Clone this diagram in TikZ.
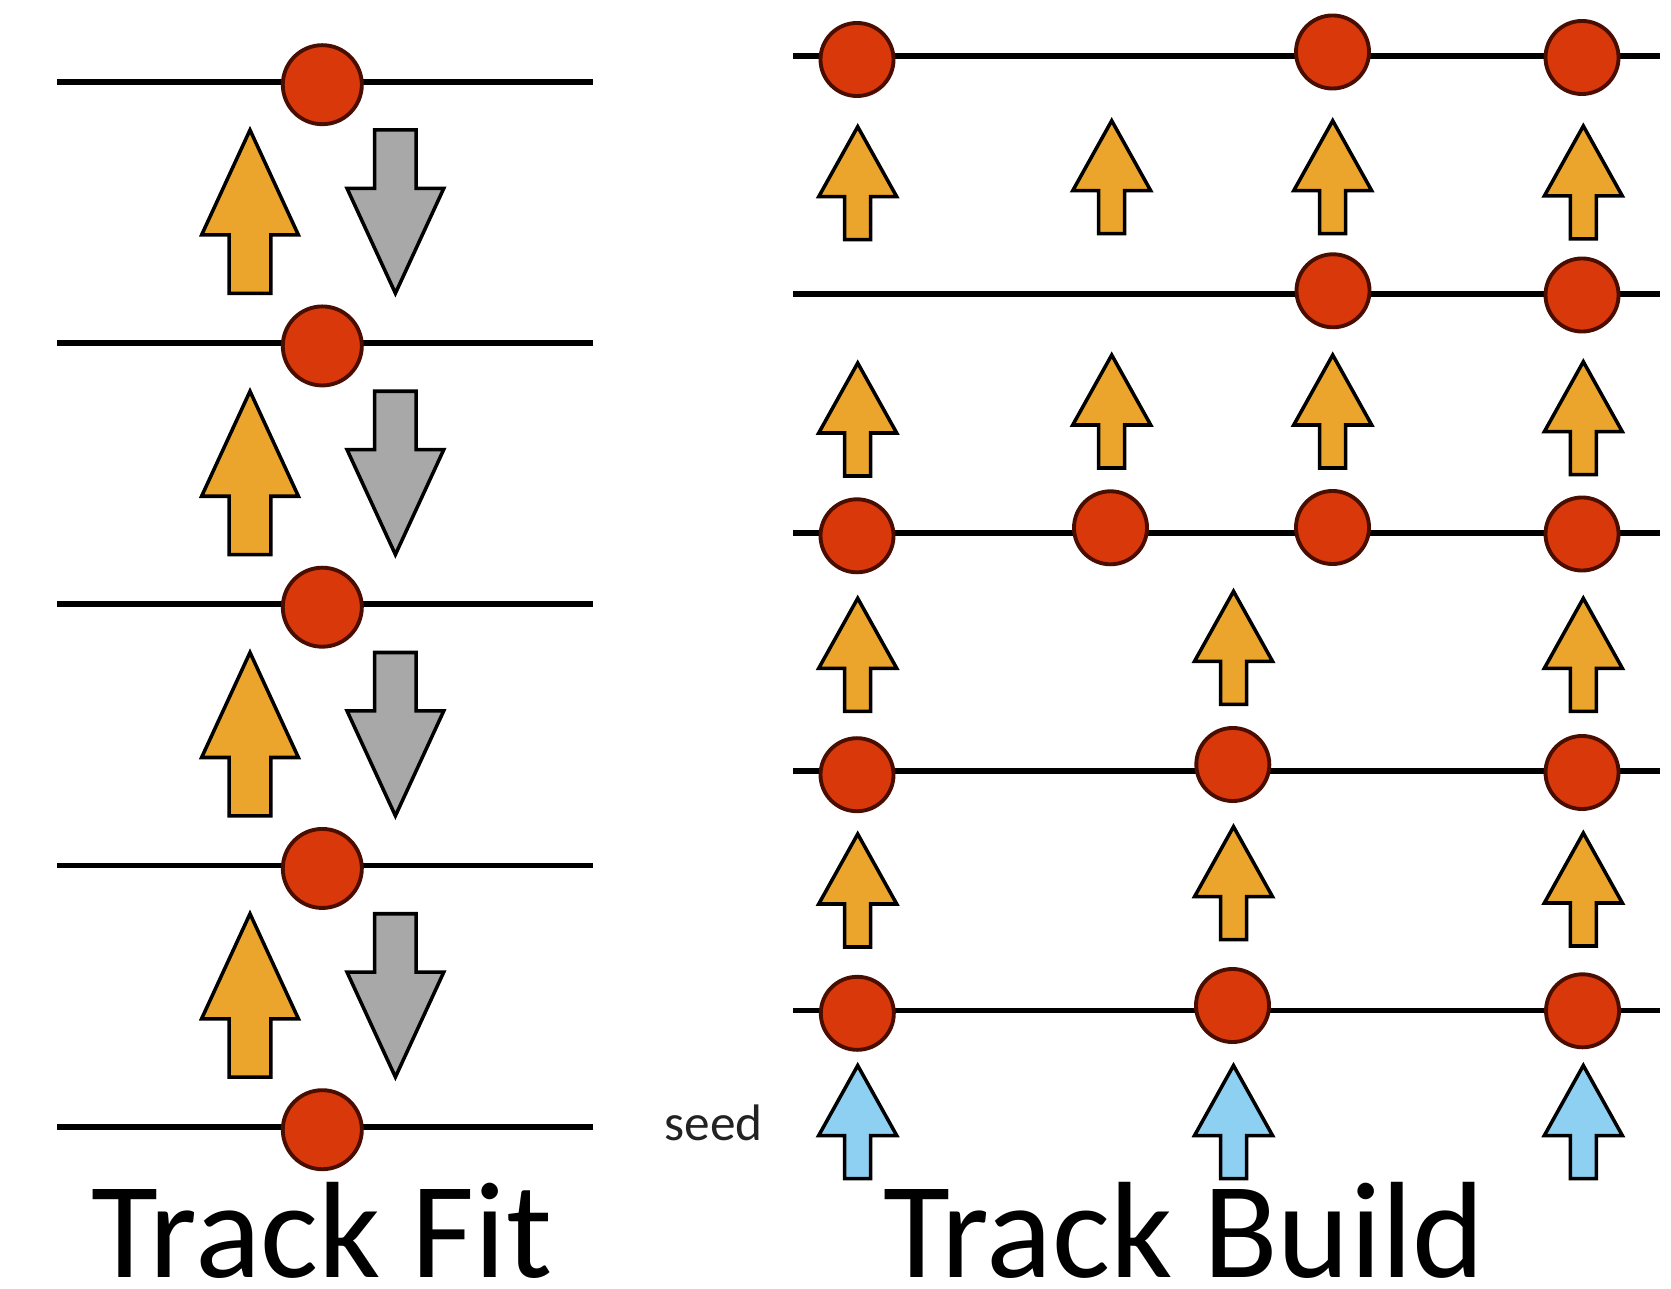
\documentclass[tikz,border=0pt]{standalone}
\usepackage{fontspec}
\setmainfont{Carlito}
\definecolor{hitred}{HTML}{D8380A}
\definecolor{hitedge}{HTML}{4A0E00}
\definecolor{fwdorange}{HTML}{EBA52C}
\definecolor{bwdgrey}{HTML}{A8A8A8}
\definecolor{seedblue}{HTML}{8ED0F2}
\definecolor{seedtext}{HTML}{222222}
\begin{document}
\begin{tikzpicture}[x=0.01cm,y=-0.01cm,
  track/.style={line width=1.6pt, black},
  hit/.style={circle, draw=hitedge, fill=hitred, line width=1.1pt, inner sep=0pt},
  bighit/.style={hit, minimum size=0.79cm},
  smallhit/.style={hit, minimum size=0.73cm},
  blockarrow/.style={draw=black, line width=1pt, line join=miter},
  fwd/.style={blockarrow, fill=fwdorange},
  bwd/.style={blockarrow, fill=bwdgrey},
  seedarrow/.style={blockarrow, fill=seedblue},
  bigblk/.pic={\path[pic actions] (0,0) -- (48.4,105) -- (20.8,105) -- (20.8,163.3)
      -- (-20.8,163.3) -- (-20.8,105) -- (-48.4,105) -- cycle;},
  smallblk/.pic={\path[pic actions] (0,0) -- (39,70) -- (13,70) -- (13,113)
      -- (-13,113) -- (-13,70) -- (-39,70) -- cycle;},
  title/.style={anchor=base, inner sep=0pt, text depth=0pt,
      font=\fontsize{39}{44}\selectfont}
]
\useasboundingbox (0,0) rectangle (1671,1289);
\fill[white] (0,0) rectangle (1671,1289);

% ---------- Track Fit: five layers, forward and backward passes ----------
\foreach \k in {0,...,4} {
  \pgfmathsetmacro\ly{81.7+261.25*\k}
  \coordinate (fitL\k) at (57,\ly);
  \coordinate (fitR\k) at (593,\ly);
  \draw[track] (fitL\k) -- (fitR\k);
  \node[bighit] (fit\k) at (322.3,\ly+3) {};
}
\foreach \k in {0,...,3} {
  \pgfmathsetmacro\ly{81.7+261.25*\k}
  \pic[fwd] at (250,\ly+48.3) {bigblk};
  \pic[bwd, rotate=180] at (395.4,\ly+211.6) {bigblk};
}

% ---------- Track Build: layers ----------
\foreach \k/\ly in {1/56, 2/294.3, 3/533, 4/770.7, 5/1010.5} {
  \coordinate (bldL\k) at (793,\ly);
  \coordinate (bldR\k) at (1660,\ly);
  \draw[track] (bldL\k) -- (bldR\k);
}

% hits on each layer
\foreach \n/\x/\y in {a1/857/59.5, c1/1332.5/52, d1/1582/57.5,
                      c2/1333/290.8, d2/1582/295,
                      a3/857/535.8, b3/1110.5/527.8, c3/1332.5/527.5, d3/1582/534,
                      a4/857/774.7, m4/1232.8/764.5, d4/1582/772.5,
                      a5/857.3/1013.3, m5/1232.5/1005.5, d5/1582.5/1010.8} {
  \node[smallhit] (hit\n) at (\x,\y) {};
}

% propagation steps between layers
\foreach \x/\y in {857.7/126.7, 1111.7/120.7, 1332.7/120.7, 1583.3/126,
                   857.7/363, 1111.7/355, 1332.7/355, 1583.3/361.7,
                   857.7/598.3, 1233.5/591.3, 1583.3/598.3,
                   857.7/834, 1233.5/826.7, 1583.3/833} {
  \pic[fwd] at (\x,\y) {smallblk};
}

% seeds
\foreach \x in {857.7, 1233.5, 1583.3} {
  \pic[seedarrow] at (\x,1065.5) {smallblk};
}
\node[anchor=base west, inner sep=0pt, text=seedtext,
      font=\fontsize{14.6}{16}\selectfont] (seedlabel) at (664,1140) {seed};

% ---------- titles ----------
\node[title] (fitlabel) at (322,1277) {Track Fit};
\node[title] (buildlabel) at (1184,1277) {Track Build};
\end{tikzpicture}
\end{document}
